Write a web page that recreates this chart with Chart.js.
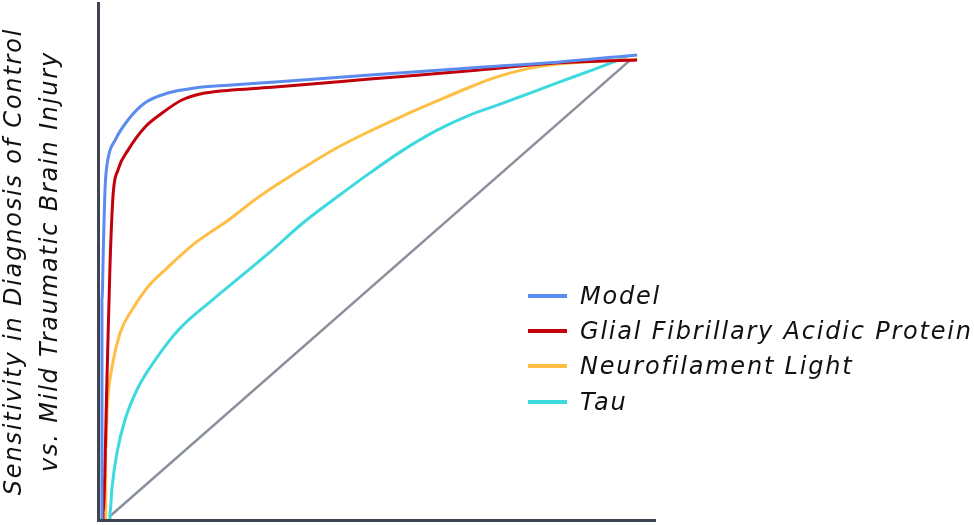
<!DOCTYPE html>
<html>
<head>
<meta charset="utf-8">
<script src="https://cdn.jsdelivr.net/npm/chart.js@4.4.1/dist/chart.umd.min.js"></script>
<style>
  html, body { margin: 0; padding: 0; background: #ffffff; }
  #wrap { position: relative; width: 974px; height: 525px; overflow: hidden; }
  #c { position: absolute; left: 0; top: 0; }
  #legend { position: absolute; left: 528px; top: 278px; font: italic 24px "DejaVu Sans", sans-serif; letter-spacing: 1.8px; color: #111111; }
  .item { display: flex; align-items: center; height: 35.3px; white-space: nowrap; }
  .swatch { width: 39px; height: 4px; margin-right: 13px; flex: none; }
</style>
</head>
<body>
<div id="wrap">
  <canvas id="c" width="974" height="525"></canvas>
  <div id="legend"></div>
</div>
<script>
// ---- Data (false positive rate = 1 - specificity, true positive rate = sensitivity) ----
const seriesNames = ["Model", "Glial Fibrillary Acidic Protein", "Neurofilament Light", "Tau"];
const yAxisTitle = ["Sensitivity in Diagnosis of Control", "vs. Mild Traumatic Brain Injury"];

const modelFpr = [-0.002, -0.002, -0.002, 0.001, 0.004, 0.009, 0.023, 0.047, 0.079, 0.122, 0.173, 0.235, 0.323, 0.501, 0.689, 0.857, 1.002];
const modelTpr = [0.000, 0.256, 0.472, 0.601, 0.716, 0.774, 0.817, 0.860, 0.897, 0.918, 0.929, 0.935, 0.942, 0.957, 0.972, 0.985, 1.000];

const gfapFpr = [0.000, 0.000, 0.008, 0.013, 0.019, 0.028, 0.047, 0.079, 0.111, 0.148, 0.191, 0.248, 0.323, 0.501, 0.689, 0.857, 1.002];
const gfapTpr = [0.000, 0.013, 0.328, 0.543, 0.700, 0.752, 0.795, 0.845, 0.875, 0.903, 0.918, 0.925, 0.931, 0.948, 0.966, 0.983, 0.989];

const nflFpr = [0.005, 0.005, 0.005, 0.008, 0.017, 0.032, 0.054, 0.084, 0.122, 0.173, 0.235, 0.285, 0.323, 0.375, 0.439, 0.501, 0.563, 0.627, 0.689, 0.732, 0.795, 0.857, 0.919, 1.002];
const nflTpr = [0.000, 0.013, 0.149, 0.241, 0.328, 0.401, 0.450, 0.500, 0.543, 0.595, 0.644, 0.688, 0.718, 0.756, 0.800, 0.836, 0.869, 0.901, 0.931, 0.950, 0.970, 0.981, 0.986, 0.991];

const tauFpr = [0.013, 0.013, 0.017, 0.026, 0.041, 0.066, 0.098, 0.141, 0.205, 0.266, 0.313, 0.375, 0.439, 0.501, 0.563, 0.627, 0.689, 0.745, 0.801, 0.857, 0.919, 0.983];
const tauTpr = [0.000, 0.013, 0.069, 0.142, 0.213, 0.284, 0.343, 0.407, 0.472, 0.530, 0.575, 0.638, 0.694, 0.746, 0.795, 0.838, 0.871, 0.894, 0.918, 0.942, 0.968, 0.996];

const chanceFpr = [0.013, 0.989];
const chanceTpr = [0.006, 0.989];

const seriesColors = ["#5b8bee", "#c1000c", "#ffbe45", "#3dd9df"];
const chanceColor = "#8a909c";

function pts(xs, ys) { return xs.map((x, i) => ({ x: x, y: ys[i] })); }

const curveData = [pts(modelFpr, modelTpr), pts(gfapFpr, gfapTpr), pts(nflFpr, nflTpr), pts(tauFpr, tauTpr)];

const datasets = curveData.map((d, i) => ({
  label: seriesNames[i],
  data: d,
  borderColor: seriesColors[i],
  backgroundColor: seriesColors[i],
  borderWidth: 3,
  pointRadius: 0,
  showLine: true,
  cubicInterpolationMode: 'monotone',
  fill: false
}));
datasets.push({
  label: "chance",
  data: pts(chanceFpr, chanceTpr),
  borderColor: chanceColor,
  borderWidth: 2.5,
  pointRadius: 0,
  showLine: true,
  tension: 0,
  fill: false
});

const letterSpacingPlugin = {
  id: 'letterSpacing',
  beforeDraw(chart) { chart.ctx.letterSpacing = '1.8px'; }
};

new Chart(document.getElementById('c'), {
  type: 'scatter',
  data: { datasets: datasets },
  plugins: [letterSpacingPlugin],
  options: {
    responsive: false,
    animation: false,
    layout: { padding: { left: 0, top: 3, right: 319, bottom: 5 } },
    plugins: { legend: { display: false }, tooltip: { enabled: false } },
    scales: {
      x: {
        type: 'linear',
        min: -0.0094, max: 1.0356,
        ticks: { display: false },
        grid: { display: false, drawTicks: false },
        border: { display: true, color: '#3e4450', width: 3 }
      },
      y: {
        type: 'linear',
        min: -0.002, max: 1.112,
        ticks: { display: false },
        grid: { display: false, drawTicks: false },
        border: { display: true, color: '#3e4450', width: 3 },
        title: {
          display: true,
          text: yAxisTitle,
          color: '#111111',
          font: { family: '"DejaVu Sans", sans-serif', size: 24, style: 'italic', lineHeight: '36px' },
          padding: { top: -3, bottom: 29 }
        }
      }
    }
  }
});

// HTML legend built from the series arrays
const legendEl = document.getElementById('legend');
seriesNames.forEach((name, i) => {
  const row = document.createElement('div');
  row.className = 'item';
  const sw = document.createElement('span');
  sw.className = 'swatch';
  sw.style.background = seriesColors[i];
  const tx = document.createElement('span');
  tx.textContent = name;
  row.appendChild(sw);
  row.appendChild(tx);
  legendEl.appendChild(row);
});
</script>
</body>
</html>
